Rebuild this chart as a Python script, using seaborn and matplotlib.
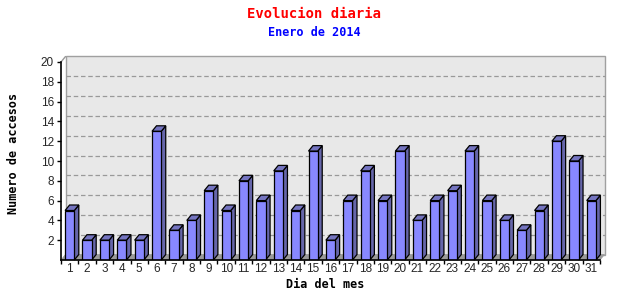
import matplotlib
matplotlib.use("Agg")
import matplotlib.pyplot as plt
import seaborn as sns
import numpy as np
from matplotlib.patches import Polygon, Rectangle

days = [str(d) for d in range(1, 32)]
accesos = [5, 2, 2, 2, 2, 13, 3, 4, 7, 5, 8, 6, 9, 5, 11, 2, 6, 9, 6, 11,
           4, 6, 7, 11, 6, 4, 3, 5, 12, 10, 6]
y_ticks = [2, 4, 6, 8, 10, 12, 14, 16, 18, 20]
title = "Evolucion diaria"
subtitle = "Enero de 2014"
xlabel = "Dia del mes"
ylabel = "Numero de accesos"

sns.set_style("white")
plt.rcParams['font.family'] = ['Liberation Sans', 'DejaVu Sans']

W, H = 640, 300
fig = plt.figure(figsize=(W / 100, H / 100), dpi=100)
left_px, right_px, top_px, bot_px = 61, 600, 62, 260
ax = fig.add_axes([left_px / W, 1 - bot_px / H, (right_px - left_px) / W, (bot_px - top_px) / H])
ax.set_facecolor("none")

front = "#8888ff"
side = "#6666aa"
topc = "#7474c0"

sns.barplot(x=days, y=accesos, color=front, edgecolor="black", linewidth=0.9,
            width=0.53, saturation=1, ax=ax, zorder=5)

ax.set_xlim(-0.5, len(days) - 0.5)
ax.set_ylim(0, 20)

# depth offset (pixels -> data units)
dpx, dpy = 4.5, 5.5
xr = ax.get_xlim()[1] - ax.get_xlim()[0]
ddx = dpx * xr / (right_px - left_px)
ddy = dpy * 20 / (bot_px - top_px)
x0, x1 = ax.get_xlim()

# back wall
wall = Polygon([(x0 + ddx, ddy), (x1 + ddx, ddy), (x1 + ddx, 20 + ddy), (x0 + ddx, 20 + ddy)],
               closed=True, facecolor="#e8e8e8", edgecolor="#a0a0a0", linewidth=1.0,
               zorder=0, clip_on=False)
ax.add_patch(wall)
# grid on back wall
for t in y_ticks[:-1]:
    ax.plot([x0 + ddx, x1 + ddx], [t + ddy, t + ddy], color="#999999", linestyle=(0, (3.6, 2.2)),
            linewidth=0.9, zorder=1, clip_on=False)
# floor
floor = Polygon([(x0, 0), (x1, 0), (x1 + ddx, ddy), (x0 + ddx, ddy)], closed=True,
                facecolor="#9a9a9a", edgecolor="#9a9a9a", linewidth=0.5, zorder=2, clip_on=False)
ax.add_patch(floor)
# left slant at top
ax.plot([x0, x0 + ddx], [20, 20 + ddy], color="#999999", linewidth=1.0, zorder=2, clip_on=False)

# 3D sides of bars
for p in ax.patches:
    if not isinstance(p, Rectangle):
        continue
    x, w, h = p.get_x(), p.get_width(), p.get_height()
    if w > 1:
        continue
    s = Polygon([(x + w, 0), (x + w + ddx, ddy), (x + w + ddx, h + ddy), (x + w, h)], closed=True,
                facecolor=side, edgecolor="black", linewidth=0.9, zorder=4, clip_on=False)
    tp = Polygon([(x, h), (x + ddx, h + ddy), (x + w + ddx, h + ddy), (x + w, h)], closed=True,
                 facecolor=topc, edgecolor="black", linewidth=0.9, zorder=4, clip_on=False)
    ax.add_patch(s)
    ax.add_patch(tp)

# spines
for sp in ["top", "right"]:
    ax.spines[sp].set_visible(False)
for sp in ["left", "bottom"]:
    ax.spines[sp].set_color("black")
    ax.spines[sp].set_linewidth(1.2)
    ax.spines[sp].set_zorder(6)

# ticks
ax.set_yticks(y_ticks)
ax.set_yticklabels([str(t) for t in y_ticks])
ax.set_xticks(range(len(days)))
ax.set_xticklabels(days)
ax.set_xticks(np.arange(len(days) + 1) - 0.5, minor=True)
ax.tick_params(axis="x", which="major", length=0, pad=2.5, labelsize=8.5)
ax.tick_params(axis="x", which="minor", length=3, width=1, color="black", direction="out", bottom=True)
ax.tick_params(axis="y", which="major", length=3, width=1, color="black", direction="out",
               left=True, pad=2, labelsize=8.5)
ax.grid(False)

mono = "DejaVu Sans Mono"
ax.set_xlabel("")
ax.set_ylabel("")
fig.text(325 / W, 1 - 284 / H, xlabel, ha="center", va="center", family=mono,
         fontweight="bold", fontsize=8.5, color="black")
fig.text(14 / W, 1 - 153 / H, ylabel, ha="center", va="center", family=mono, rotation=90,
         fontweight="bold", fontsize=8.5, color="black")
fig.text(314 / W, 1 - 14 / H, title, ha="center", va="center", family=mono,
         fontweight="bold", fontsize=10, color="#ff0000")
fig.text(314 / W, 1 - 32 / H, subtitle, ha="center", va="center", family=mono,
         fontweight="bold", fontsize=8.5, color="#0000ff")

fig.savefig("out.png", dpi=100)
